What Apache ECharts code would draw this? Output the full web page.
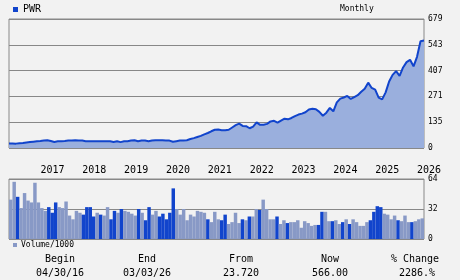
<!DOCTYPE html>
<html><head><meta charset="utf-8">
<script src="https://cdn.jsdelivr.net/npm/echarts@6/dist/echarts.min.js"></script>
<style>html,body{margin:0;padding:0;background:#f2f2f2;}#c{width:460px;height:280px;}</style>
</head><body><div id="c"></div>
<script>
// Monthly closes, Apr 2016 .. Mar 2026
const price = [24,24,23,25,26,29,31,33,35,37,
  40,41,37,32,35,36,37,39,40,41,
  40,40,36,35,35,36,35,36,36,35,
  32,35,31,35,36,39,41,36,39,39,
  36,39,41,41,41,40,39,33,36,39,
  40,41,47,52,58,64,72,79,88,96,
  97,94,94,96,108,120,128,116,115,104,
  113,135,122,122,127,140,143,133,144,154,
  151,158,168,176,181,188,203,207,204,190,
  170,186,211,193,240,260,266,274,258,268,
  278,296,312,344,316,307,265,256,293,350,
  385,405,380,424,452,464,430,480,562,566];
// Volume / 1000 (thousands)
const volume = [42,61,45,33,49,41,39,60,39,33,
  30,34,28,39,34,33,40,25,21,30,
  28,26,34,34,24,28,26,25,34,21,
  30,28,32,30,29,27,25,32,28,20,
  34,26,30,24,27,21,28,54,32,26,
  32,20,26,24,30,29,28,21,18,29,
  21,20,26,16,18,28,17,21,20,24,
  24,32,31,42,32,21,21,24,16,20,
  17,18,18,20,12,19,17,14,15,15,
  29,29,19,19,20,16,18,21,16,21,
  18,14,14,18,20,29,35,34,27,26,
  21,25,20,19,25,18,18,19,21,22];
// 1 = down month (dark bar), 0 = up month (light bar)
const volDown = [0,0,1,0,0,0,0,0,0,0,
  0,1,1,1,0,0,0,0,0,0,
  0,1,1,1,1,0,1,0,0,1,
  1,0,1,0,0,0,0,1,0,1,
  1,0,0,1,1,1,1,1,0,0,
  0,0,0,0,0,0,0,1,0,0,
  0,1,1,0,0,0,0,1,0,1,
  0,0,1,0,0,0,0,1,0,0,
  1,0,0,0,0,0,0,0,0,1,
  1,0,0,1,0,0,1,0,1,0,
  0,0,0,0,1,1,1,1,0,0,
  0,0,1,0,0,0,1,0,0,0];
const priceTickLabels = ['0','135','271','407','543','679'];
const volTickLabels = ['0','32','64'];
const summaryHeads = ['Begin','End','From','Now','% Change'];
const summaryVals = ['04/30/16','03/03/26','23.720','566.00','2286.%'];
const ticker = 'PWR';
const periodLabel = 'Monthly';
const volLabel = 'Volume/1000';

const months = [];
for (let i = 0; i < 120; i++) {
  const m = 3 + i; const y = 2016 + Math.floor(m / 12); const mm = (m % 12) + 1;
  months.push(y + '-' + (mm < 10 ? '0' : '') + mm);
}
const FONT = 'DejaVu Sans Mono';
const GRAY = '#888888';
const colX = [60, 147, 241, 330, 415];
const chart = echarts.init(document.getElementById('c'), null, {renderer: 'canvas'});
const heads = summaryHeads.map((t, i) => ({type: 'text',
  style: {text: t, x: colX[i], y: 259, textAlign: 'center', textVerticalAlign: 'middle', fill: '#000', font: '10px ' + FONT}}));
const vals = summaryVals.map((t, i) => ({type: 'text',
  style: {text: t, x: colX[i] + (i === 4 ? 2 : 0), y: 273, textAlign: 'center', textVerticalAlign: 'middle', fill: '#000', font: '10px ' + FONT}}));
chart.setOption({
  backgroundColor: '#f2f2f2',
  animation: false,
  grid: [
    {left: 9, top: 19, width: 415, height: 129, show: true, borderColor: GRAY, borderWidth: 1, backgroundColor: 'transparent'},
    {left: 9, top: 179, width: 415, height: 60, show: true, borderColor: GRAY, borderWidth: 1, backgroundColor: 'transparent'}
  ],
  xAxis: [
    {type: 'category', gridIndex: 0, data: months, boundaryGap: false,
     axisLine: {show: false}, axisTick: {show: false}, splitLine: {show: false},
     axisLabel: {show: true, interval: (i) => i % 12 === 9, formatter: (v) => v.slice(0, 4),
       align: 'left', margin: 17, color: '#000', fontFamily: FONT, fontSize: 10}},
    {type: 'category', gridIndex: 1, data: months, boundaryGap: true,
     axisLine: {show: false}, axisTick: {show: false}, axisLabel: {show: false}, splitLine: {show: false}}
  ],
  yAxis: [
    {type: 'value', gridIndex: 0, position: 'right', min: 0, max: 679, interval: 135.8,
     axisLine: {show: false}, axisTick: {show: false},
     splitLine: {show: true, lineStyle: {color: GRAY, width: 1}},
     axisLabel: {margin: 4, color: '#000', fontFamily: FONT, fontSize: 8, formatter: (v, i) => priceTickLabels[i]}},
    {type: 'value', gridIndex: 1, position: 'right', min: 0, max: 64, interval: 32,
     axisLine: {show: false}, axisTick: {show: false},
     splitLine: {show: true, lineStyle: {color: GRAY, width: 1}},
     axisLabel: {margin: 4, color: '#000', fontFamily: FONT, fontSize: 8, formatter: (v, i) => volTickLabels[i]}}
  ],
  series: [
    {type: 'line', xAxisIndex: 0, yAxisIndex: 0, data: price, symbol: 'none',
     lineStyle: {color: '#1144cc', width: 2}, areaStyle: {color: '#9aafdd', opacity: 1}, z: 3},
    {type: 'bar', xAxisIndex: 1, yAxisIndex: 1, barCategoryGap: 0,
     data: volume.map((v, i) => ({value: v, itemStyle: {color: volDown[i] ? '#1144cc' : '#8899c6'}}))}
  ],
  graphic: [
    {type: 'rect', shape: {x: 13, y: 7, width: 5, height: 5}, style: {fill: '#1144cc'}},
    {type: 'text', style: {text: ticker, x: 23, y: 9, textVerticalAlign: 'middle', fill: '#000', font: '10px ' + FONT}},
    {type: 'text', style: {text: periodLabel, x: 340, y: 9, textVerticalAlign: 'middle', fill: '#000', font: '8px ' + FONT}},
    {type: 'rect', shape: {x: 13, y: 243, width: 4, height: 4}, style: {fill: '#8899c6'}},
    {type: 'text', style: {text: volLabel, x: 21, y: 245, textVerticalAlign: 'middle', fill: '#000', font: '8px ' + FONT}}
  ].concat(heads, vals)
});
</script></body></html>
